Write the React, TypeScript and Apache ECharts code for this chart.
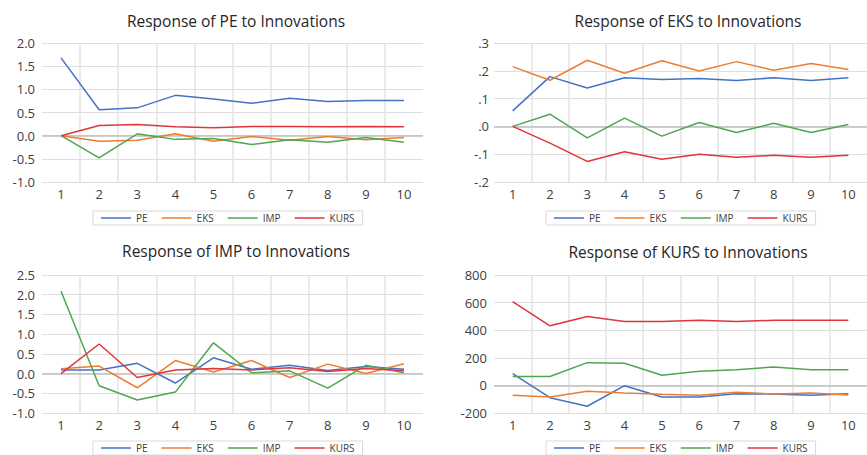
import React, { useEffect, useRef } from "react";
import * as echarts from "echarts";

const categories = ["1", "2", "3", "4", "5", "6", "7", "8", "9", "10"];
const seriesNames = ["PE", "EKS", "IMP", "KURS"];
const colors = ["#4472C4", "#ED7D31", "#4FA64F", "#E0353B"];
const titles = [
  "Response of PE to Innovations",
  "Response of EKS to Innovations",
  "Response of IMP to Innovations",
  "Response of KURS to Innovations",
];

// Response of PE
const pePE = [1.68, 0.56, 0.6, 0.87, 0.79, 0.7, 0.81, 0.74, 0.76, 0.76];
const peEKS = [0, -0.12, -0.1, 0.04, -0.12, -0.02, -0.1, -0.02, -0.09, -0.04];
const peIMP = [0, -0.48, 0.04, -0.08, -0.06, -0.19, -0.09, -0.14, -0.04, -0.14];
const peKURS = [0, 0.22, 0.24, 0.19, 0.17, 0.2, 0.2, 0.19, 0.2, 0.19];

// Response of EKS
const eksPE = [0.056, 0.179, 0.138, 0.175, 0.169, 0.172, 0.165, 0.175, 0.165, 0.175];
const eksEKS = [0.215, 0.166, 0.238, 0.191, 0.236, 0.199, 0.233, 0.202, 0.226, 0.205];
const eksIMP = [0, 0.044, -0.041, 0.03, -0.035, 0.014, -0.022, 0.011, -0.022, 0.007];
const eksKURS = [0, -0.06, -0.126, -0.091, -0.118, -0.1, -0.111, -0.104, -0.111, -0.104];

// Response of IMP
const impPE = [0.09, 0.09, 0.26, -0.24, 0.4, 0.11, 0.21, 0.08, 0.18, 0.11];
const impEKS = [0.12, 0.19, -0.36, 0.33, 0.04, 0.33, -0.1, 0.24, 0.0, 0.25];
const impIMP = [2.09, -0.31, -0.67, -0.47, 0.78, 0.02, 0.07, -0.37, 0.21, 0.02];
const impKURS = [0, 0.75, -0.1, 0.09, 0.13, 0.09, 0.15, 0.05, 0.13, 0.07];

// Response of KURS
const kursPE = [86, -89, -151, -2, -84, -84, -60, -62, -72, -60];
const kursEKS = [-72, -84, -43, -55, -65, -72, -50, -62, -55, -70];
const kursIMP = [65, 65, 165, 161, 74, 103, 113, 134, 113, 113];
const kursKURS = [607, 432, 499, 463, 463, 472, 463, 472, 472, 472];

const panelData = [
  [pePE, peEKS, peIMP, peKURS],
  [eksPE, eksEKS, eksIMP, eksKURS],
  [impPE, impEKS, impIMP, impKURS],
  [kursPE, kursEKS, kursIMP, kursKURS],
];

const yMins = [-1, -0.2, -1, -200];
const yMaxs = [2, 0.3, 2.5, 800];
const yIntervals = [0.5, 0.1, 0.5, 200];

const FONT = "Open Sans";

function fmt(panel: number, v: number): string {
  if (panel === 1) {
    const s = v.toFixed(1);
    return s.replace("0.", ".");
  }
  if (panel === 3) return String(Math.round(v));
  return v.toFixed(1);
}

export default function App() {
  const ref = useRef<HTMLDivElement>(null);
  useEffect(() => {
    if (!ref.current) return;
    const chart = echarts.init(ref.current, null, { renderer: "svg" });

    const grids = [
      { left: 42, top: 43, width: 381, height: 139 },
      { left: 494, top: 43, width: 378, height: 139 },
      { left: 42, top: 275, width: 381, height: 138 },
      { left: 494, top: 275, width: 378, height: 138 },
    ];
    const titleCenters = [
      [231, 8],
      [683, 8],
      [231, 238],
      [683, 239],
    ];
    const legendPos = [
      [93, 211],
      [546, 211],
      [93, 441],
      [546, 441],
    ];
    const labelMargins = [7, 5, 7, 7];

    const series: any[] = [];
    panelData.forEach((arrs, p) => {
      arrs.forEach((d, i) => {
        const s: any = {
          type: "line",
          name: seriesNames[i],
          xAxisIndex: p,
          yAxisIndex: p,
          data: d,
          symbol: "none",
          lineStyle: { width: 1.5, color: colors[i] },
          itemStyle: { color: colors[i] },
        };
        if (i === 0) {
          s.markLine = {
            silent: true,
            symbol: "none",
            label: { show: false },
            lineStyle: { color: "#bfbfbf", width: 1.5, type: "solid" },
            data: [{ yAxis: 0 }],
            z: 1,
          };
        }
        series.push(s);
      });
    });

    chart.setOption({
      animation: false,
      title: titles.map((t, p) => ({
        text: t,
        left: titleCenters[p][0],
        top: titleCenters[p][1],
        textAlign: "center",
        textStyle: {
          fontSize: 15.5,
          fontWeight: "normal",
          color: "#262626",
          fontFamily: FONT,
        },
      })),
      legend: legendPos.map((pos) => ({
        left: pos[0],
        top: pos[1],
        data: seriesNames,
        icon: "rect",
        itemWidth: 30,
        itemHeight: 1.5,
        itemGap: 14,
        padding: [2, 8],
        borderColor: "#d9d9d9",
        borderWidth: 1,
        selectedMode: false,
        textStyle: { fontSize: 10, color: "#404040", fontFamily: FONT },
      })),
      grid: grids,
      xAxis: grids.map((_, p) => ({
        type: "category",
        gridIndex: p,
        data: categories,
        boundaryGap: true,
        axisLine: { show: false },
        axisTick: { show: false },
        axisLabel: {
          margin: 5,
          fontSize: 13,
          color: "#404040",
          fontFamily: FONT,
        },
        splitLine: {
          show: true,
          showMinLine: false,
          showMaxLine: false,
          lineStyle: { color: "#e3e3e3", width: 1.5 },
        },
      })),
      yAxis: grids.map((_, p) => ({
        type: "value",
        gridIndex: p,
        min: yMins[p],
        max: yMaxs[p],
        interval: yIntervals[p],
        axisLine: { show: false },
        axisTick: { show: false },
        axisLabel: {
          margin: labelMargins[p],
          fontSize: 13,
          color: "#404040",
          fontFamily: FONT,
          formatter: (v: number) => fmt(p, v),
        },
        splitLine: { show: true, lineStyle: { color: "#dedede", width: 1 } },
      })),
      series,
    });
    return () => chart.dispose();
  }, []);
  return (
    <div
      ref={ref}
      style={{ position: "fixed", left: 0, top: 0, width: 867, height: 455, background: "#fff" }}
    />
  );
}
